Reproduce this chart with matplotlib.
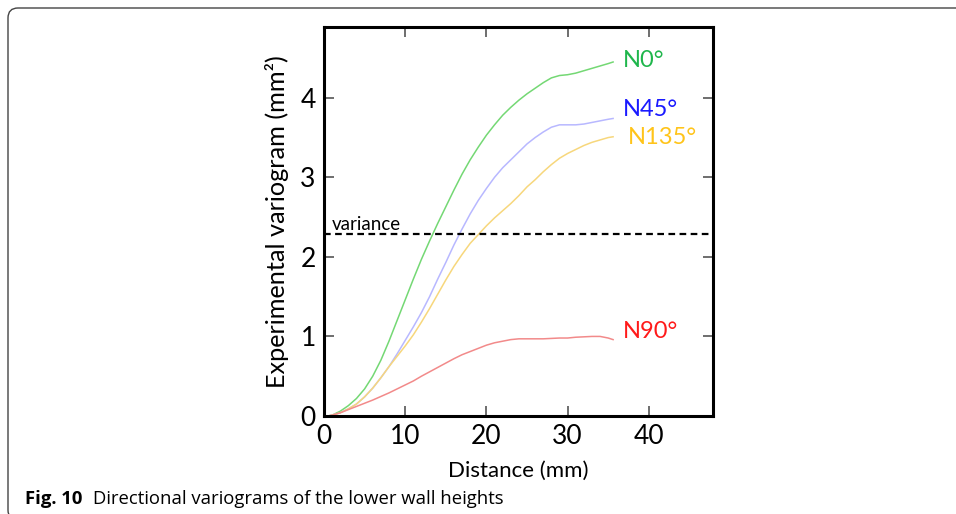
import matplotlib.pyplot as plt
from matplotlib.patches import FancyBboxPatch
from matplotlib.transforms import IdentityTransform

plt.rcParams['font.family'] = ['Lato', 'DejaVu Sans']

# lag distances (mm) shared by all directions
dist = [0.5, 1, 2, 3, 4, 5, 6, 7, 8, 9, 10, 11, 12, 13, 14, 15, 16, 17, 18, 19,
        20, 21, 22, 23, 24, 25, 26, 27, 28, 29, 30, 31, 32, 33, 34, 35, 35.6]

# experimental variogram values (mm^2) per direction
n0 = [0, 0.01, 0.06, 0.13, 0.22, 0.34, 0.5, 0.7, 0.94, 1.2, 1.46, 1.72, 1.97, 2.2, 2.42,
      2.63, 2.84, 3.04, 3.22, 3.38, 3.53, 3.66, 3.78, 3.88, 3.97, 4.05, 4.12, 4.19, 4.25,
      4.28, 4.29, 4.31, 4.34, 4.37, 4.40, 4.43, 4.45]
n45 = [0, 0.01, 0.04, 0.09, 0.15, 0.24, 0.35, 0.48, 0.62, 0.78, 0.95, 1.12, 1.3, 1.5, 1.72,
       1.93, 2.15, 2.35, 2.54, 2.71, 2.86, 3.0, 3.12, 3.22, 3.32, 3.42, 3.5, 3.57, 3.63,
       3.66, 3.66, 3.66, 3.67, 3.69, 3.71, 3.73, 3.74]
n135 = [0, 0.01, 0.04, 0.09, 0.15, 0.24, 0.35, 0.48, 0.62, 0.75, 0.88, 1.02, 1.18, 1.35, 1.53,
        1.71, 1.88, 2.03, 2.17, 2.28, 2.39, 2.49, 2.58, 2.67, 2.77, 2.88, 2.97, 3.07, 3.16,
        3.24, 3.30, 3.35, 3.40, 3.44, 3.47, 3.50, 3.51]
n90 = [0, 0.01, 0.04, 0.08, 0.12, 0.16, 0.2, 0.245, 0.29, 0.34, 0.39, 0.44, 0.5, 0.555, 0.61,
       0.665, 0.72, 0.77, 0.81, 0.85, 0.89, 0.92, 0.94, 0.96, 0.97, 0.97, 0.97, 0.97, 0.975,
       0.98, 0.98, 0.99, 0.995, 1.0, 1.0, 0.98, 0.96]

variance = 2.29

names = ['N0°', 'N45°', 'N135°', 'N90°']
line_colors = ['#74d874', '#b8b8ff', '#f7d77c', '#f28a8a']
text_colors = ['#1fb64c', '#1a1aff', '#ffc41a', '#ff1a1a']
label_pos = [(36.8, 4.47), (36.8, 3.85), (37.4, 3.50), (36.8, 1.06)]

fig = plt.figure(figsize=(9.56, 5.14), dpi=100)

# rounded frame around the figure, running off the right and bottom edges
frame = FancyBboxPatch((8, -6), 980, 512, boxstyle='round,pad=0,rounding_size=10',
                       transform=IdentityTransform(), fill=False,
                       edgecolor='#444444', linewidth=1.0)
fig.patches.append(frame)

ax = fig.add_axes([0.3389, 0.1907, 0.4069, 0.7568])

for ys, lc, tc, name, (lx, ly) in zip([n0, n45, n135, n90], line_colors, text_colors, names, label_pos):
    ax.plot(dist, ys, color=lc, linewidth=1.1)
    ax.text(lx, ly, name, color=tc, fontsize=17, va='center', ha='left')

ax.axhline(variance, color='black', linestyle=(0, (3, 2)), linewidth=1.6)
ax.text(1.0, variance + 0.005, 'variance', fontsize=13.5, va='bottom', ha='left')

ax.set_xlim(0, 47.9)
ax.set_ylim(0, 4.89)
ax.set_xticks([0, 10, 20, 30, 40])
ax.set_yticks([0, 1, 2, 3, 4])
ax.tick_params(direction='in', length=7, width=1.2, color='#555555',
               top=True, right=True, labelsize=19, pad=6)
for s in ax.spines.values():
    s.set_linewidth(2.2)

ax.set_xlabel('Distance (mm)', fontsize=16, labelpad=8)
ax.set_ylabel('Experimental variogram (mm²)', fontsize=18.2, labelpad=8)

fig.text(25 / 956, 1 - 499 / 514, 'Fig. 10', fontsize=13.3, fontweight='bold',
         family=['Open Sans', 'DejaVu Sans'], va='center', ha='left')
fig.text(93 / 956, 1 - 499 / 514, 'Directional variograms of the lower wall heights',
         fontsize=13.3, family=['Open Sans', 'DejaVu Sans'], va='center', ha='left')

fig.savefig('out.png', dpi=100)
